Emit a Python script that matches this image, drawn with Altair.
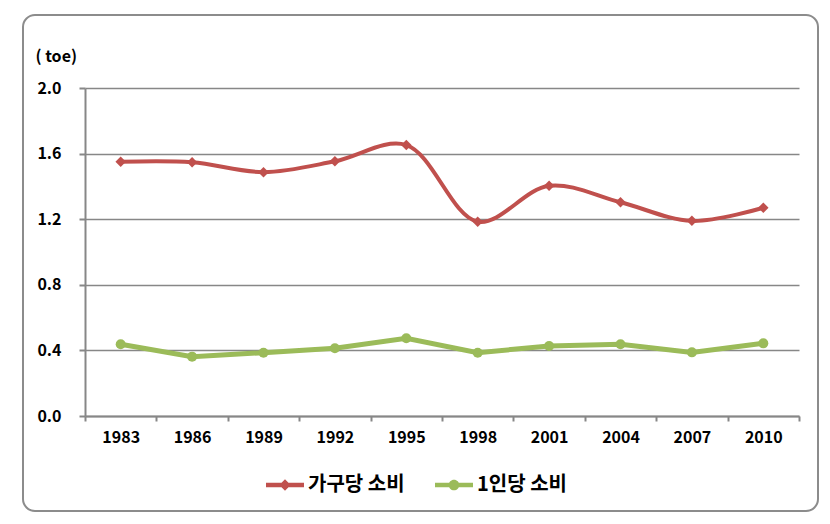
import altair as alt
import pandas as pd

years = ["1983", "1986", "1989", "1992", "1995", "1998", "2001", "2004", "2007", "2010"]
household = [1.55, 1.547, 1.487, 1.553, 1.652, 1.185, 1.404, 1.303, 1.19, 1.27]
per_capita = [0.437, 0.362, 0.386, 0.413, 0.474, 0.386, 0.427, 0.437, 0.388, 0.443]
series_names = ["가구당 소비", "1인당 소비"]
series_colors = ["#C0504D", "#9BBB59"]
y_ticks = [0.0, 0.4, 0.8, 1.2, 1.6, 2.0]

rows = []
for yr, v in zip(years, household):
    rows.append({"year": yr, "value": v, "series": series_names[0]})
for yr, v in zip(years, per_capita):
    rows.append({"year": yr, "value": v, "series": series_names[1]})
df = pd.DataFrame(rows)

FONT = "Noto Sans CJK KR"
GRAY = "#878787"

x_enc = alt.X(
    "year:O",
    sort=years,
    bandPosition=0.5,
    scale=alt.Scale(type="band", paddingInner=0, paddingOuter=0),
    axis=alt.Axis(
        title=None, labelAngle=0, tickBand="extent", tickSize=5, tickWidth=2,
        tickColor=GRAY, domainColor=GRAY, domainWidth=2, grid=False,
        labelFont=FONT, labelFontSize=16, labelFontWeight="bold",
        labelColor="#000000", labelPadding=8,
    ),
)
y_enc = alt.Y(
    "value:Q",
    scale=alt.Scale(domain=[0, 2]),
    axis=alt.Axis(
        values=y_ticks, format=".1f", title="( toe)", titleAngle=0,
        titleX=-50, titleY=-32, titleAlign="left", titleBaseline="middle",
        titleFont=FONT, titleFontSize=16, titleFontWeight="bold", titleColor="#000000",
        tickSize=6, tickWidth=2, tickColor=GRAY, domainColor=GRAY, domainWidth=2,
        grid=True, gridColor=GRAY, gridWidth=1.6,
        labelFont=FONT, labelFontSize=16, labelFontWeight="bold",
        labelColor="#000000", labelPadding=18,
    ),
)

legend = alt.Legend(
    title=None, orient="none", legendX=181, legendY=378, direction="horizontal",
    symbolSize=1444, symbolStrokeWidth=0, symbolOpacity=1,
    labelFont=FONT, labelFontSize=20, labelFontWeight="bold", labelColor="#000000",
    labelOffset=4, columnPadding=30, padding=0,
)
color_enc = alt.Color(
    "series:N", sort=series_names,
    scale=alt.Scale(domain=series_names, range=series_colors), legend=legend,
)

path_diamond = "M-1,-0.12L1,-0.12L1,0.12L-1,0.12Z M-0.3,0L0,-0.3L0.3,0L0,0.3Z"
path_circle = "M-1,-0.12L1,-0.12L1,0.12L-1,0.12Z M-0.28,0A0.28,0.28 0 1,1 0.28,0A0.28,0.28 0 1,1 -0.28,0Z"

base = alt.Chart(df)
red = base.transform_filter(alt.datum.series == series_names[0])
green = base.transform_filter(alt.datum.series == series_names[1])

red_line = red.mark_line(interpolate="catmull-rom", strokeWidth=4).encode(x=x_enc, y=y_enc, color=color_enc)
green_line = green.mark_line(strokeWidth=5).encode(x=x_enc, y=y_enc, color=color_enc)
red_pts = red.mark_point(shape="diamond", filled=True, size=110, opacity=1).encode(x=x_enc, y=y_enc, color=color_enc)
green_pts = green.mark_point(shape="circle", filled=True, size=100, opacity=1).encode(x=x_enc, y=y_enc, color=color_enc)
legend_layer = base.mark_point(filled=True, opacity=0).encode(
    x=x_enc, y=y_enc, color=color_enc,
    shape=alt.Shape("series:N", sort=series_names,
                    scale=alt.Scale(domain=series_names, range=[path_diamond, path_circle]),
                    legend=legend),
)

frame = alt.Chart(pd.DataFrame({"k": [0]})).mark_rect(
    fill=None, stroke="#8C8C8C", strokeWidth=2, cornerRadius=12, clip=False
).encode(x=alt.value(-62), x2=alt.value(733), y=alt.value(-73), y2=alt.value(423))

chart = alt.layer(frame, red_line, green_line, red_pts, green_pts, legend_layer).properties(
    width=714, height=328,
    autosize=alt.AutoSizeParams(type="none"),
    padding={"left": 85, "top": 88, "right": 31, "bottom": 108},
    background="#FFFFFF",
).configure_view(stroke=None)

chart.save("out.html", embed_options={"renderer": "svg", "actions": False})
